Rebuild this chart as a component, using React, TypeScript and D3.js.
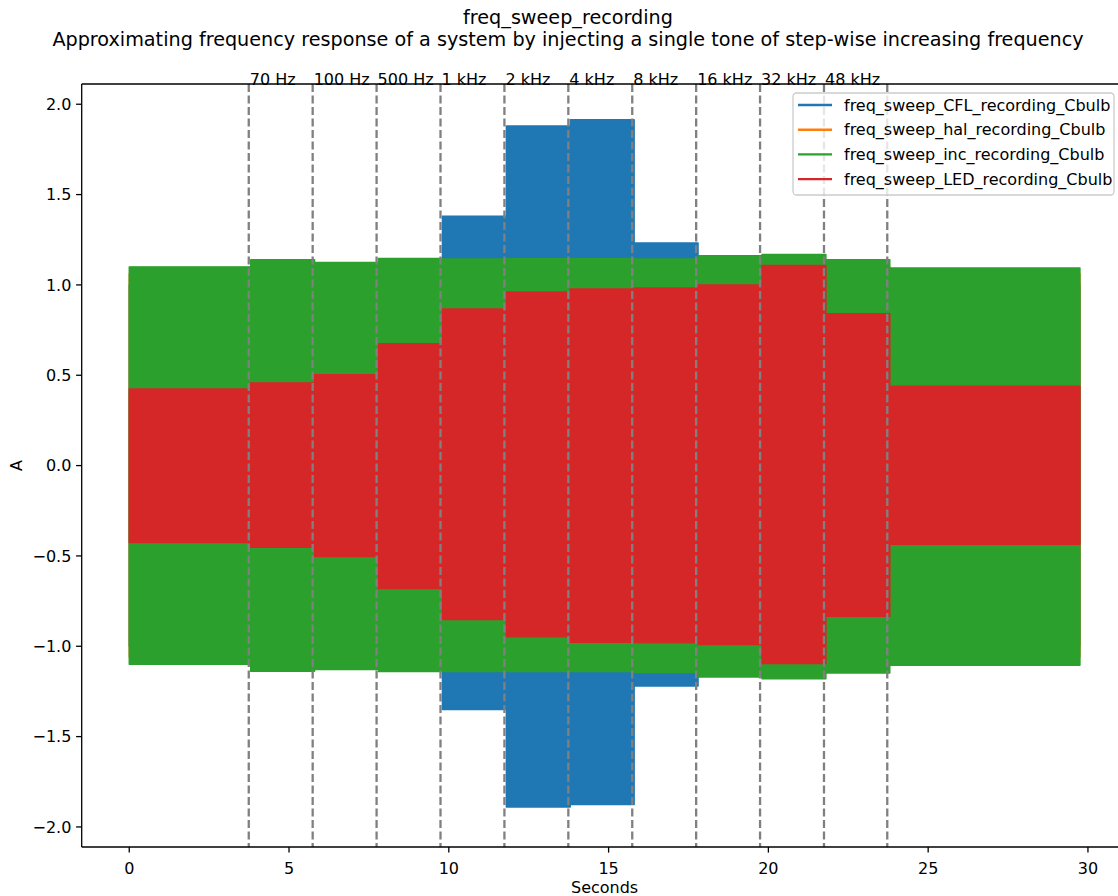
import React from "react";
import * as d3 from "d3";

// Tone step boundaries (seconds) where the injected frequency changes
const stepEdges = [0, 3.8, 5.8, 7.8, 9.8, 11.8, 13.8, 15.8, 17.8, 19.8, 21.8, 23.8, 29.75];

// Marker lines drawn at each new tone, and their labels
const markerTimes = [3.74, 5.74, 7.74, 9.74, 11.74, 13.74, 15.74, 17.74, 19.74, 21.74, 23.72];
const markerLabels = ["70 Hz", "100 Hz", "500 Hz", "1 kHz", "2 kHz", "4 kHz", "8 kHz", "16 kHz", "32 kHz", "48 kHz"];

// Peak envelope (upper / lower) of each recording, one value per step
const cflUpper = [1.0, 1.02, 1.02, 1.03, 1.38, 1.88, 1.915, 1.232, 1.05, 1.05, 1.03, 1.0];
const cflLower = [-1.0, -1.02, -1.02, -1.03, -1.35, -1.89, -1.876, -1.22, -1.05, -1.05, -1.03, -1.0];
const halUpper = [1.06, 1.1, 1.09, 1.1, 1.1, 1.1, 1.1, 1.1, 1.12, 1.12, 1.1, 1.06];
const halLower = [-1.06, -1.1, -1.09, -1.1, -1.1, -1.1, -1.1, -1.1, -1.12, -1.12, -1.1, -1.06];
const incUpper = [1.1, 1.14, 1.125, 1.146, 1.144, 1.145, 1.145, 1.144, 1.162, 1.168, 1.14, 1.094];
const incLower = [-1.1, -1.138, -1.129, -1.14, -1.14, -1.14, -1.14, -1.146, -1.17, -1.18, -1.148, -1.105];
const ledUpper = [0.424, 0.458, 0.503, 0.675, 0.867, 0.961, 0.978, 0.983, 1.0, 1.108, 0.84, 0.439];
const ledLower = [-0.426, -0.452, -0.503, -0.68, -0.852, -0.948, -0.978, -0.981, -0.99, -1.096, -0.834, -0.435];

const seriesNames = [
  "freq_sweep_CFL_recording_Cbulb",
  "freq_sweep_hal_recording_Cbulb",
  "freq_sweep_inc_recording_Cbulb",
  "freq_sweep_LED_recording_Cbulb",
];
const seriesColors = ["#1f77b4", "#ff7f0e", "#2ca02c", "#d62728"];

const xTicks = [0, 5, 10, 15, 20, 25, 30];
const yTicks = [2.0, 1.5, 1.0, 0.5, 0.0, -0.5, -1.0, -1.5, -2.0];

const W = 1118;
const H = 896;
const FONT = "'DejaVu Sans', sans-serif";
const FS = 16;
const TITLE_FS = 19.2;

type EnvPoint = { t: number; hi: number; lo: number };

function envelope(upper: number[], lower: number[]): EnvPoint[] {
  const pts: EnvPoint[] = upper.map((u, i) => ({ t: stepEdges[i], hi: u, lo: lower[i] }));
  const last = upper.length - 1;
  pts.push({ t: stepEdges[last + 1], hi: upper[last], lo: lower[last] });
  return pts;
}

export default function App() {
  const left = 81.7;
  const right = 1127.5;
  const top = 84;
  const bottom = 847;

  const x = d3.scaleLinear().domain([-1.4875, 31.2375]).range([left, right]);
  const y = d3.scaleLinear().domain([-2.111, 2.112]).range([bottom, top]);

  const area = d3
    .area<EnvPoint>()
    .x((d) => x(d.t))
    .y0((d) => y(d.lo))
    .y1((d) => y(d.hi))
    .curve(d3.curveStepAfter);

  const series = [
    envelope(cflUpper, cflLower),
    envelope(halUpper, halLower),
    envelope(incUpper, incLower),
    envelope(ledUpper, ledLower),
  ];

  const fmt = (v: number) => (v < 0 ? "\u2212" + Math.abs(v).toFixed(1) : v.toFixed(1));

  const legendX = 793;
  const legendY = 93;
  const legendW = 321;
  const legendH = 102;
  const rowGap = 24.7;
  const tickLen = 5.6;

  return (
    <svg
      width={W}
      height={H}
      style={{ position: "absolute", left: 0, top: 0, background: "#fff" }}
      fontFamily={FONT}
    >
      <defs>
        <clipPath id="plot-area">
          <rect x={left} y={top} width={right - left} height={bottom - top} />
        </clipPath>
      </defs>

      {/* Figure title */}
      <text x={568} y={24} textAnchor="middle" fontSize={TITLE_FS} fill="#000">
        freq_sweep_recording
      </text>
      <text x={568} y={46} textAnchor="middle" fontSize={TITLE_FS} fill="#000">
        Approximating frequency response of a system by injecting a single tone of step-wise increasing frequency
      </text>

      {/* Recording envelopes */}
      <g clipPath="url(#plot-area)">
        {series.map((s, i) => (
          <path
            key={seriesNames[i]}
            d={area(s) ?? ""}
            fill={seriesColors[i]}
            stroke={seriesColors[i]}
            strokeWidth={1.4}
            strokeLinejoin="round"
          />
        ))}
      </g>

      {/* Tone markers */}
      {markerTimes.map((t, i) => (
        <line
          key={"m" + i}
          x1={x(t)}
          x2={x(t)}
          y1={top}
          y2={bottom}
          stroke="#808080"
          strokeWidth={2.3}
          strokeDasharray="8 3.5"
        />
      ))}
      {markerLabels.map((lab, i) => (
        <text key={"ml" + i} x={x(markerTimes[i]) + 1} y={top + 1} fontSize={FS} fill="#000">
          {lab}
        </text>
      ))}

      {/* Spines */}
      <line x1={left} x2={left} y1={top} y2={bottom} stroke="#000" strokeWidth={1.3} />
      <line x1={left} x2={right} y1={top} y2={top} stroke="#000" strokeWidth={1.3} />
      <line x1={left} x2={right} y1={bottom} y2={bottom} stroke="#000" strokeWidth={1.3} />
      <line x1={right} x2={right} y1={top} y2={bottom} stroke="#000" strokeWidth={1.3} />

      {/* Y axis */}
      {yTicks.map((v) => (
        <g key={"y" + v}>
          <line x1={left - tickLen} x2={left} y1={y(v)} y2={y(v)} stroke="#000" strokeWidth={1.3} />
          <text x={left - 10.3} y={y(v)} dy="0.36em" textAnchor="end" fontSize={FS} fill="#000">
            {fmt(v)}
          </text>
        </g>
      ))}
      <text
        transform={`translate(22, ${(top + bottom) / 2}) rotate(-90)`}
        textAnchor="middle"
        fontSize={FS}
        fill="#000"
      >
        A
      </text>

      {/* X axis */}
      {xTicks.map((v) => (
        <g key={"x" + v}>
          <line x1={x(v)} x2={x(v)} y1={bottom} y2={bottom + tickLen} stroke="#000" strokeWidth={1.3} />
          <text x={x(v)} y={873.5} textAnchor="middle" fontSize={FS} fill="#000">
            {v}
          </text>
        </g>
      ))}
      <text x={(left + right) / 2} y={893} textAnchor="middle" fontSize={FS} fill="#000">
        Seconds
      </text>

      {/* Legend */}
      <rect
        x={legendX}
        y={legendY}
        width={legendW}
        height={legendH}
        rx={3.5}
        ry={3.5}
        fill="#fff"
        fillOpacity={0.8}
        stroke="#cccccc"
        strokeWidth={1.3}
      />
      {seriesNames.map((name, i) => {
        const cy = legendY + 12 + i * rowGap;
        return (
          <g key={"lg" + i}>
            <line x1={798} x2={832} y1={cy} y2={cy} stroke={seriesColors[i]} strokeWidth={2.4} />
            <text x={844} y={cy} dy="0.36em" fontSize={FS} fill="#000">
              {name}
            </text>
          </g>
        );
      })}
    </svg>
  );
}
